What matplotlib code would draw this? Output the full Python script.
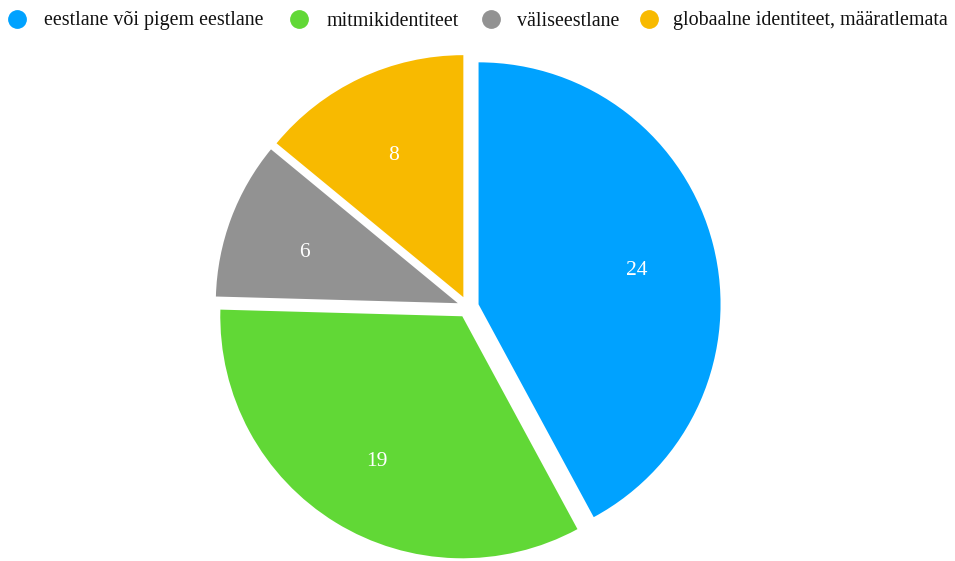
import matplotlib
matplotlib.use("Agg")
import matplotlib.pyplot as plt
from matplotlib.lines import Line2D
from matplotlib.transforms import offset_copy

categories = ["eestlane või pigem eestlane", "mitmikidentiteet", "väliseestlane",
              "globaalne identiteet, määratlemata"]
values = [24, 19, 6, 8]
colors = ["#00A2FF", "#61D836", "#929292", "#F8BA00"]

plt.rcParams["font.family"] = ["Liberation Serif", "DejaVu Serif"]

W, H = 955, 561
fig = plt.figure(figsize=(W / 100, H / 100), dpi=100)
ax = fig.add_axes([0.2113, -0.02175, 0.5575, 0.949])

wedges, texts, autotexts = ax.pie(
    values,
    colors=colors,
    startangle=90,
    counterclock=False,
    explode=[0.045] * len(values),
    autopct=lambda p: f"{round(p * sum(values) / 100):d}",
    pctdistance=0.675,
    textprops=dict(color="white", fontsize=15.5),
    wedgeprops=dict(linewidth=0),
)
# centre the digits optically (shift down a few pixels)
for t in autotexts:
    t.set_transform(offset_copy(t.get_transform(), fig=fig, x=0, y=-6.5, units="dots"))

ax.set_xlim(-1.1, 1.1)
ax.set_ylim(-1.1, 1.1)
ax.set_aspect("equal")
ax.axis("off")

# legend row along the top edge (pixel positions of each entry)
marker_px = [17, 299, 491, 649]
text_px = [44, 327, 517, 673]
row_center = 18.5
row_baseline = 25.5
for name, col, mx, tx in zip(categories, colors, marker_px, text_px):
    fig.add_artist(Line2D([mx / W], [1 - row_center / H], transform=fig.transFigure,
                          marker="o", linestyle="none", markersize=12.5,
                          markerfacecolor=col, markeredgecolor=col))
    fig.text(tx / W, 1 - row_baseline / H, name, fontsize=14.45, color="#111111",
             ha="left", va="baseline")

fig.savefig("out.png", dpi=100)
